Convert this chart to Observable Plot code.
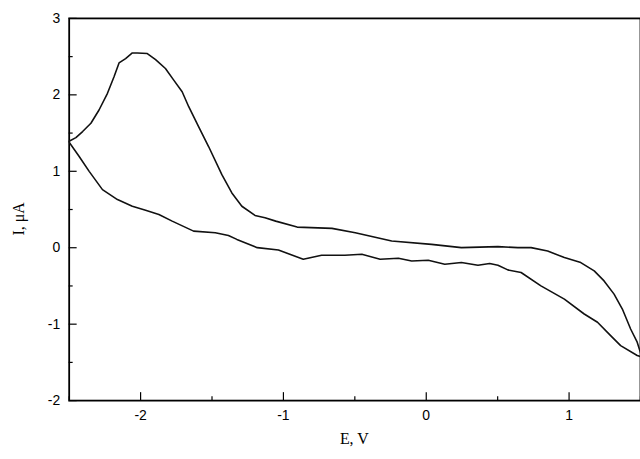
<!DOCTYPE html>
<html>
<head>
<meta charset="utf-8">
<script src="https://cdn.jsdelivr.net/npm/d3@7"></script>
<script src="https://cdn.jsdelivr.net/npm/@observablehq/plot@0.6"></script>
<style>
  html, body { margin: 0; padding: 0; background: #fff; overflow: hidden; }
  #chart { position: relative; width: 640px; height: 459px; overflow: hidden; }
  #chart svg [aria-label$="tick label"] { font-size: 14px; font-family: 'Liberation Sans', Arial, sans-serif; }
</style>
</head>
<body>
<div id="chart"></div>
<script>
// Upper branch (with the peak near -2 V)
const upperE = [-2.504, -2.453, -2.406, -2.348, -2.291, -2.232, -2.186, -2.151, -2.105, -2.058, -2.023, -1.953, -1.895, -1.826, -1.768, -1.709, -1.663, -1.594, -1.524, -1.431, -1.361, -1.291, -1.199, -1.129, -1.054, -0.904, -0.660, -0.497, -0.242, 0.037, 0.246, 0.502, 0.641, 0.734, 0.850, 0.967, 1.082, 1.176, 1.245, 1.315, 1.373, 1.431, 1.477, 1.51];
const upperI = [1.389, 1.441, 1.520, 1.629, 1.802, 2.020, 2.236, 2.418, 2.475, 2.548, 2.548, 2.540, 2.462, 2.345, 2.193, 2.040, 1.845, 1.585, 1.324, 0.956, 0.717, 0.543, 0.422, 0.392, 0.348, 0.270, 0.253, 0.197, 0.087, 0.044, 0.001, 0.014, 0.001, 0.001, -0.043, -0.129, -0.194, -0.303, -0.434, -0.607, -0.802, -1.063, -1.236, -1.43];
// Lower branch
const lowerE = [-2.504, -2.430, -2.360, -2.267, -2.162, -2.058, -1.965, -1.872, -1.779, -1.629, -1.477, -1.385, -1.326, -1.183, -1.035, -0.861, -0.733, -0.570, -0.451, -0.323, -0.195, -0.102, 0.014, 0.130, 0.246, 0.362, 0.444, 0.502, 0.571, 0.664, 0.803, 0.967, 1.106, 1.199, 1.291, 1.361, 1.477, 1.51];
const lowerI = [1.389, 1.194, 0.999, 0.760, 0.630, 0.543, 0.491, 0.435, 0.348, 0.217, 0.197, 0.161, 0.109, 0.001, -0.030, -0.151, -0.099, -0.099, -0.086, -0.151, -0.138, -0.173, -0.164, -0.216, -0.194, -0.229, -0.207, -0.229, -0.290, -0.324, -0.499, -0.672, -0.867, -0.975, -1.150, -1.280, -1.410, -1.43];

const xMajor = [-2, -1, 0, 1];
const xMinor = [-2.5, -1.5, -0.5, 0.5, 1.5];
const yMajor = [-2, -1, 0, 1, 2, 3];
const yMinor = [-1.5, -0.5, 0.5, 1.5, 2.5];

const upper = upperE.map((e, i) => ({E: e, I: upperI[i]}));
const lower = lowerE.map((e, i) => ({E: e, I: lowerI[i]}));

const font = "'Liberation Sans', Arial, sans-serif";
const fmt = d => d < 0 ? "-" + Math.abs(d) : String(d);

const chart = Plot.plot({
  width: 643,
  height: 459,
  marginLeft: 69,
  marginRight: 0,
  marginTop: 18,
  marginBottom: 57,
  style: {fontFamily: font, fontSize: "14px", color: "#000", background: "#fff", overflow: "visible"},
  x: {domain: [-2.5, 1.5]},
  y: {domain: [-2, 3]},
  marks: [
    Plot.frame({stroke: "#000", strokeWidth: 1.8}),
    Plot.axisX(xMajor, {anchor: "bottom", tickSize: -8, text: null, stroke: "#000", strokeWidth: 1.2, label: null}),
    Plot.axisX(xMinor, {anchor: "bottom", tickSize: -4, text: null, stroke: "#000", strokeWidth: 1.2, label: null}),
    Plot.axisY(yMajor, {anchor: "left", tickSize: -8, text: null, stroke: "#000", strokeWidth: 1.2, label: null}),
    Plot.axisY(yMinor, {anchor: "left", tickSize: -4, text: null, stroke: "#000", strokeWidth: 1.2, label: null}),
    Plot.axisX(xMajor, {anchor: "bottom", tickSize: 0, tickPadding: 10, tickFormat: fmt, fontSize: 14, fill: "#000", label: null}),
    Plot.axisY(yMajor, {anchor: "left", tickSize: 0, tickPadding: 9, tickFormat: fmt, fontSize: 14, fill: "#000", label: null}),
    Plot.line(upper, {x: "E", y: "I", stroke: "#111", strokeWidth: 1.6, clip: true}),
    Plot.line(lower, {x: "E", y: "I", stroke: "#111", strokeWidth: 1.6, clip: true})
  ]
});

document.getElementById("chart").appendChild(chart);

const svg = d3.select(chart);
svg.append("text")
  .attr("x", 356).attr("y", 446)
  .attr("text-anchor", "middle")
  .attr("font-family", "'Liberation Serif', 'Times New Roman', serif")
  .attr("font-size", 16)
  .attr("fill", "#000")
  .text("E, V");
svg.append("text")
  .attr("transform", "translate(24,220) rotate(-90)")
  .attr("text-anchor", "middle")
  .attr("font-family", "'Liberation Serif', 'Times New Roman', serif")
  .attr("font-size", 16)
  .attr("fill", "#000")
  .text("I, μA");
</script>
</body>
</html>
